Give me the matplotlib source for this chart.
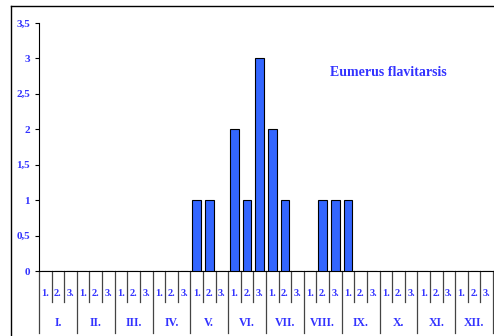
import matplotlib.pyplot as plt
from matplotlib.lines import Line2D

# data: number of individuals per decade (3 decades x 12 months)
months = ["I.", "II.", "III.", "IV.", "V.", "VI.", "VII.", "VIII.", "IX.", "X.", "XI.", "XII."]
decades = ["1.", "2.", "3."]
counts = [0, 0, 0,  0, 0, 0,  0, 0, 0,  0, 0, 0,
          1, 1, 0,  2, 1, 3,  2, 1, 0,  0, 1, 1,
          1, 0, 0,  0, 0, 0,  0, 0, 0,  0, 0, 0]
yticks = [0, 0.5, 1, 1.5, 2, 2.5, 3, 3.5]
ytick_labels = ["0", "0,5", "1", "1,5", "2", "2,5", "3", "3,5"]

blue = "#3333ff"
plt.rcParams["font.family"] = "Liberation Serif"
plt.rcParams["font.weight"] = "bold"

fig = plt.figure(figsize=(4.94, 3.36), dpi=100)
ax = fig.add_axes([0.079, 0.193, 0.919, 0.739])

x = list(range(len(counts)))
ax.bar(x, counts, width=0.68, color="#3366ff", edgecolor="black", linewidth=0.8, zorder=3)

ax.set_xlim(-0.5, len(counts) - 0.5)
ax.set_ylim(0, 3.5)
ax.set_yticks(yticks)
ax.set_yticklabels(ytick_labels, color=blue, fontsize=8, fontweight="bold")
ax.tick_params(axis="y", direction="out", length=3, width=0.8)
ax.set_xticks([])
ax.spines["top"].set_visible(False)
ax.spines["right"].set_visible(False)

# decade / month separators and labels under the axis
trans = ax.get_xaxis_transform()
for i in range(len(counts) + 1):
    b = i - 0.5
    bottom = -0.25 if i % 3 == 0 else -0.125
    ax.plot([b, b], [0, bottom], color="#444444", lw=0.9, transform=trans, clip_on=False)
for i in range(len(counts)):
    ax.text(i, -0.089, decades[i % 3], transform=trans, ha="center", va="center",
            color=blue, fontsize=7.5, fontweight="bold")
for m, name in enumerate(months):
    ax.text(3 * m + 1, -0.21, name, transform=trans, ha="center", va="center",
            color=blue, fontsize=8.5, fontweight="bold")

ax.text(0.64, 0.80, "Eumerus flavitarsis", transform=ax.transAxes, ha="left", va="center",
        color=blue, fontsize=10, fontweight="bold")

# outer frame
fig.add_artist(Line2D([0.022, 1.0], [0.982, 0.982], color="black", lw=1.0))
fig.add_artist(Line2D([0.022, 0.022], [0.0, 0.982], color="black", lw=1.0))

fig.savefig("out.png", dpi=100)
